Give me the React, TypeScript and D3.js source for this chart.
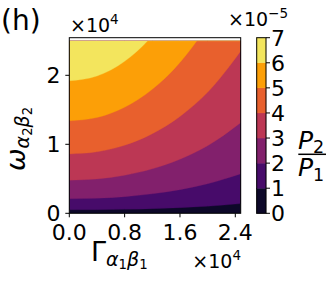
import React from "react";
import * as d3 from "d3";

// Γ sample positions (×1e4)
const gammaSamples = [0, 0.4, 0.8, 1.2, 1.6, 2.0, 2.5];
// contour boundaries (ω ×1e4) for levels 1..6 (×1e-5)
const boundary1 = [0.05, 0.052, 0.057, 0.067, 0.082, 0.102, 0.142];
const boundary2 = [0.21, 0.218, 0.241, 0.282, 0.343, 0.428, 0.58];
const boundary3 = [0.48, 0.497, 0.551, 0.644, 0.783, 0.979, 1.33];
const boundary4 = [0.86, 0.891, 0.986, 1.153, 1.404, 1.754, 2.38];
const boundary5 = [1.34, 1.388, 1.537, 1.797, 2.187, 2.734, 3.7];
const boundary6 = [1.92, 1.989, 2.202, 2.575, 3.13, 3.92, 5.3];
const levels = [0, 1, 2, 3, 4, 5, 6, 7];
const xTicks = [0, 0.8, 1.6, 2.4];
const yTicks = [0, 1, 2];
const xMax = 2.478;
const yMax = 2.545;
const dataTop = 2.5;

const W = 335;
const H = 284;
const L = 69.3, R = 240.7, T = 37.7, B = 213.3;
const CBL = 256.7, CBR = 266;

export default function App() {
  const x = d3.scaleLinear().domain([0, xMax]).range([L, R]);
  const y = d3.scaleLinear().domain([0, yMax]).range([B, T]);
  const cy = d3.scaleLinear().domain([0, 7]).range([B, T]);
  const color = (i: number) => d3.interpolateInferno((i + 0.5) / 7);
  const bounds = [
    gammaSamples.map(() => 0),
    boundary1, boundary2, boundary3, boundary4, boundary5, boundary6,
  ];
  const area = (b: number[]) =>
    d3.area<number>()
      .x((_, i) => x(gammaSamples[i]))
      .y0(y(dataTop))
      .y1((d) => y(d))
      .curve(d3.curveMonotoneX)(b) || "";
  const font = "'DejaVu Sans', sans-serif";
  const tf = 22;
  return (
    <svg width={W} height={H} style={{ position: "absolute", left: 0, top: 0 }} fontFamily={font}>
      <defs>
        <clipPath id="dataclip">
          <rect x={x(0)} y={y(dataTop)} width={x(xMax) - x(0)} height={y(0) - y(dataTop)} />
        </clipPath>
      </defs>
      <rect x={0} y={0} width={W} height={H} fill="white" />
      <g clipPath="url(#dataclip)">
        {bounds.map((b, i) => (
          <path key={i} d={area(b)} fill={color(i)} stroke={color(i)} strokeWidth={0.3} />
        ))}
      </g>
      <rect x={L} y={T} width={R - L} height={B - T} fill="none" stroke="black" strokeWidth={1} />
      {xTicks.map((t) => (
        <g key={t}>
          <line x1={x(t)} x2={x(t)} y1={B} y2={B + 4} stroke="black" strokeWidth={1} />
          <text x={x(t)} y={240} fontSize={tf} textAnchor="middle">{t.toFixed(1)}</text>
        </g>
      ))}
      {yTicks.map((t) => (
        <g key={t}>
          <line x1={L - 4} x2={L} y1={y(t)} y2={y(t)} stroke="black" strokeWidth={1} />
          <text x={60.5} y={y(t) + 8} fontSize={tf} textAnchor="end">{t}</text>
        </g>
      ))}
      {/* colorbar */}
      {levels.slice(0, 7).map((l) => (
        <rect key={l} x={CBL} y={cy(l + 1)} width={CBR - CBL} height={cy(l) - cy(l + 1)} fill={color(l)} stroke={color(l)} strokeWidth={0.3} />
      ))}
      <rect x={CBL} y={T} width={CBR - CBL} height={B - T} fill="none" stroke="black" strokeWidth={1} />
      {levels.map((l) => (
        <g key={l}>
          <line x1={CBR} x2={CBR + 4} y1={cy(l)} y2={cy(l)} stroke="black" strokeWidth={1} />
          <text x={271} y={cy(l) + 8} fontSize={tf}>{l}</text>
        </g>
      ))}
      {/* texts */}
      <text x={1} y={30} fontSize={28}>(h)</text>
      <text x={70} y={32} fontSize={19}>×10<tspan dy={-8} fontSize={13.5}>4</tspan></text>
      <text x={241} y={268} fontSize={19} textAnchor="end">×10<tspan dy={-8} fontSize={13.5}>4</tspan></text>
      <text x={228} y={26} fontSize={19}>×10<tspan dy={-8.5} fontSize={13.5}>−5</tspan></text>
      <text x={91} y={261} fontSize={27}>Γ<tspan dy={5} fontSize={19} fontStyle="italic">α</tspan><tspan dy={3} fontSize={13.3}>1</tspan><tspan dy={-3} fontSize={19} fontStyle="italic">β</tspan><tspan dy={3} fontSize={13.3}>1</tspan></text>
      <text transform="translate(25,171) rotate(-90)" fontSize={27}>
        <tspan fontStyle="italic">ω</tspan><tspan dy={3.5} fontSize={19} fontStyle="italic">α</tspan><tspan dy={3} fontSize={13.3}>2</tspan><tspan dy={-3} fontSize={19} fontStyle="italic">β</tspan><tspan dy={3} fontSize={13.3}>2</tspan>
      </text>
      <text x={311} y={148.5} fontSize={25} textAnchor="middle"><tspan fontStyle="italic">P</tspan><tspan dy={4.5} fontSize={17.5}>2</tspan></text>
      <line x1={298.3} x2={326} y1={154.3} y2={154.3} stroke="black" strokeWidth={1.5} />
      <text x={311} y={176} fontSize={25} textAnchor="middle"><tspan fontStyle="italic">P</tspan><tspan dy={4.5} fontSize={17.5}>1</tspan></text>
    </svg>
  );
}
